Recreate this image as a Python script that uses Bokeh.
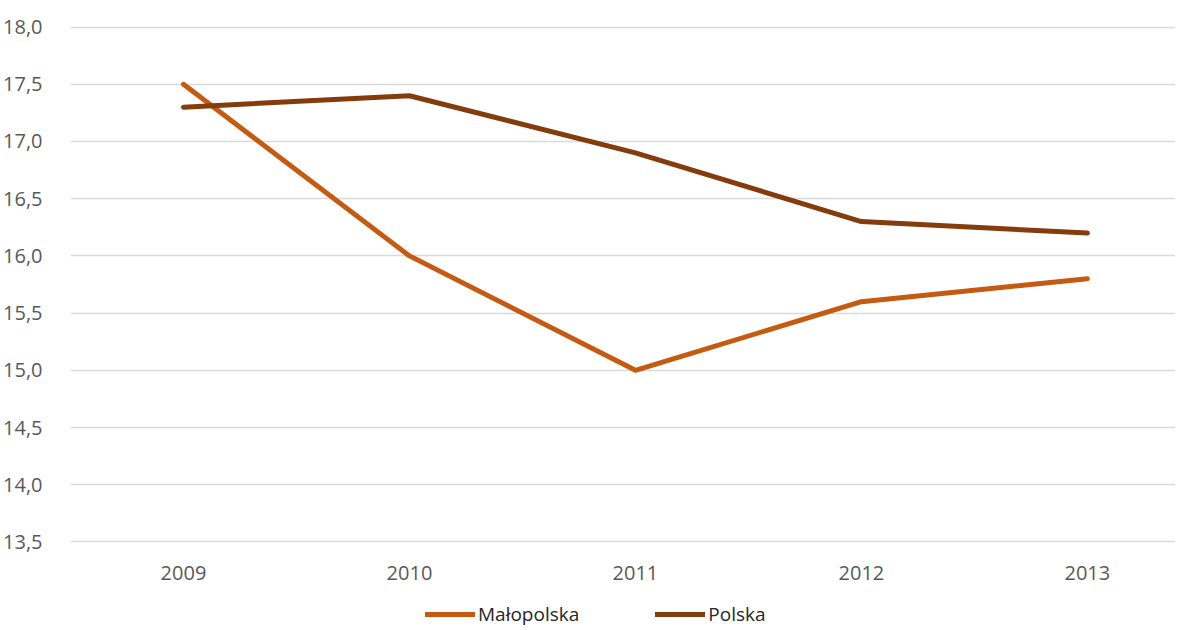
from bokeh.plotting import figure
from bokeh.models import Legend, LegendItem, FixedTicker, CustomJSTickFormatter, Range1d
from bokeh.core.properties import value
from bokeh.embed import file_html
from bokeh.resources import INLINE

years = ["2009", "2010", "2011", "2012", "2013"]
malopolska = [17.5, 16.0, 15.0, 15.6, 15.8]
polska = [17.3, 17.4, 16.9, 16.3, 16.2]
y_ticks = [13.5, 14.0, 14.5, 15.0, 15.5, 16.0, 16.5, 17.0, 17.5, 18.0]
y_min = 13.5

xs = list(range(len(years)))

p = figure(output_backend="svg", toolbar_location=None,
           x_range=Range1d(-0.5, 4.39), y_range=Range1d(12.752, 18.005),
           frame_width=1105, frame_height=601, min_border_left=64, min_border_top=26,
           min_border_right=0, min_border_bottom=0)
p.outline_line_color = None
p.background_fill_color = "white"
p.border_fill_color = "white"

r1 = p.line(xs, malopolska, line_color="#C55A11", line_width=5, line_cap="round", line_join="round")
r2 = p.line(xs, polska, line_color="#843C0C", line_width=5, line_cap="round", line_join="round")

# category labels under the baseline
p.text(xs, [y_min] * len(xs), text=years, text_align="center", text_baseline="middle",
       y_offset=31, text_font=value("Open Sans"), text_font_size="20px", text_color="#595959")

p.xgrid.grid_line_color = None
p.ygrid.grid_line_color = "#D9D9D9"
p.ygrid.grid_line_width = 1.5
p.xaxis.visible = False

p.yaxis.ticker = FixedTicker(ticks=y_ticks)
p.yaxis.formatter = CustomJSTickFormatter(code="return tick.toFixed(1).replace('.', ',');")
p.yaxis.axis_line_color = None
p.yaxis.major_tick_line_color = None
p.yaxis.minor_tick_line_color = None
p.yaxis.major_label_text_font = "Open Sans"
p.yaxis.major_label_text_font_size = "20px"
p.yaxis.major_label_text_color = "#595959"
p.yaxis.major_label_standoff = 22

legend = Legend(items=[LegendItem(label="Małopolska", renderers=[r1]),
                       LegendItem(label="Polska", renderers=[r2])],
                orientation="horizontal", location=(355, 0),
                label_text_font="Open Sans", label_text_font_size="19px",
                label_text_color="#262626", glyph_width=50, glyph_height=18,
                label_height=18, label_standoff=3,
                spacing=76, border_line_color=None, background_fill_alpha=0,
                margin=0, padding=0)
p.add_layout(legend, "center")

open("out.html", "w").write(file_html(p, INLINE))
